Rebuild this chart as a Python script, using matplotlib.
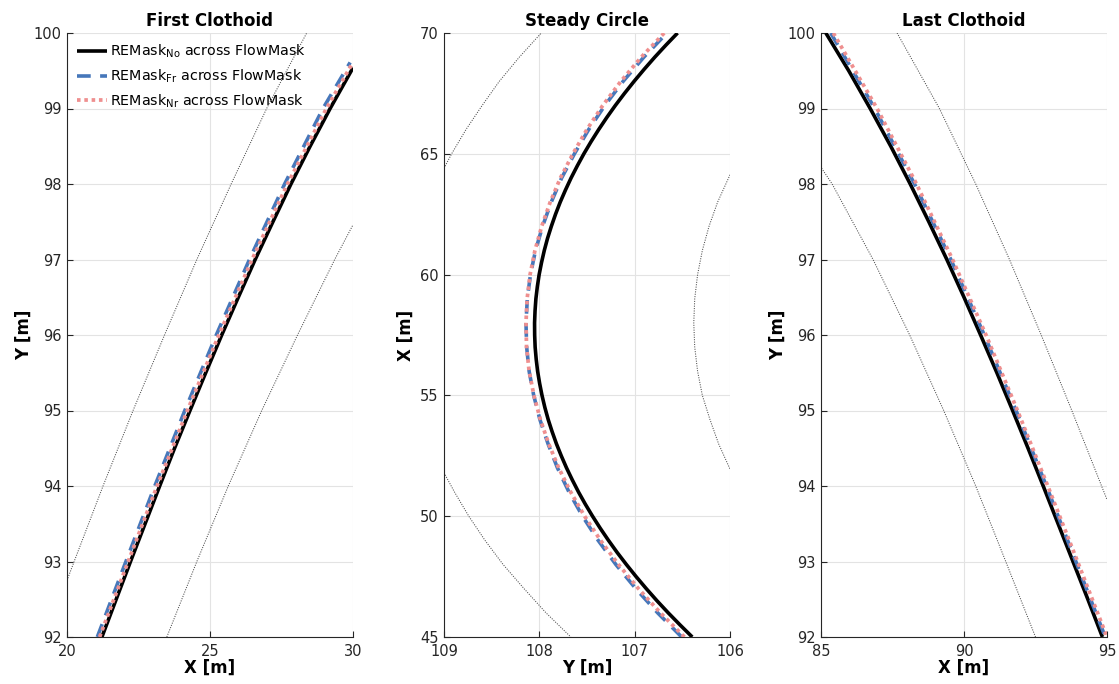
import matplotlib
matplotlib.use("Agg")
import matplotlib.pyplot as plt

plt.rcParams['font.family'] = ['DejaVu Sans']
plt.rcParams['mathtext.default'] = 'regular'

# ---------------- data ----------------
titles = ["First Clothoid", "Steady Circle", "Last Clothoid"]
legend_labels = [r"REMask$_{No}$ across FlowMask",
                 r"REMask$_{Fr}$ across FlowMask",
                 r"REMask$_{Nr}$ across FlowMask"]

# Panel 1 (x = X [m], y = Y [m])
p1_no_y = [92, 92.5, 93, 93.5, 94, 94.5, 95, 95.5, 96, 96.5, 97, 97.5,
           98, 98.5, 99, 99.54]
p1_no_x = [21.22, 21.72, 22.22, 22.73, 23.24, 23.76, 24.30, 24.85, 25.41,
           25.99, 26.58, 27.20, 27.83, 28.50, 29.20, 30.00]
p1_fr_y = [92, 93, 94, 95, 96, 97, 98, 99, 99.61]
p1_fr_x = [21.06, 22.06, 23.07, 24.12, 25.22, 26.38, 27.61, 28.95, 29.90]
p1_nr_y = [92, 93, 94, 95, 96, 97, 98, 99, 99.58]
p1_nr_x = [21.14, 22.14, 23.15, 24.21, 25.31, 26.47, 27.71, 29.07, 29.95]
p1_bl_y = [92.75, 93, 94, 95, 96, 97, 98, 99, 100]
p1_bl_x = [20.00, 20.25, 21.26, 22.31, 23.41, 24.54, 25.74, 26.98, 28.38]
p1_br_y = [92, 93, 94, 95, 96, 97, 97.46]
p1_br_x = [23.49, 24.54, 25.64, 26.81, 28.06, 29.36, 30.00]

# Panel 2 (horizontal = Y [m], vertical = X [m])
p2_no_X = [45, 45.5, 46, 46.5, 47, 47.5, 48, 48.5, 49, 49.5, 50, 50.5, 51,
           51.5, 52, 52.5, 53, 53.5, 54, 54.5, 55, 55.5, 56, 56.5, 57, 57.5,
           58, 58.5, 59, 59.5, 60, 60.5, 61, 61.5, 62, 62.5, 63, 63.5, 64,
           64.5, 65, 65.5, 66, 66.5, 67, 67.5, 68, 68.5, 69, 69.5, 70]
p2_no_Y = [106.396, 106.524, 106.648, 106.766, 106.878, 106.985, 107.087,
           107.184, 107.275, 107.361, 107.442, 107.518, 107.589, 107.654,
           107.715, 107.770, 107.821, 107.866, 107.907, 107.942, 107.972,
           107.997, 108.018, 108.033, 108.044, 108.049, 108.050, 108.045,
           108.036, 108.021, 108.002, 107.977, 107.948, 107.914, 107.874,
           107.830, 107.781, 107.726, 107.667, 107.602, 107.533, 107.458,
           107.378, 107.293, 107.203, 107.107, 107.006, 106.900, 106.789,
           106.672, 106.550]
p2_X = [45, 46, 47, 48, 49, 50, 51, 52, 53, 54, 55, 56, 57,
        58, 59, 60, 61, 62, 63, 64, 65, 66, 67, 68, 69, 70]
p2_fr_Y = [106.507, 106.759, 106.988, 107.197, 107.383, 107.547, 107.689,
           107.810, 107.909, 107.994, 108.059, 108.107, 108.133, 108.140,
           108.126, 108.093, 108.040, 107.966, 107.875, 107.766, 107.632,
           107.483, 107.313, 107.121, 106.904, 106.662]
p2_nr_Y = [106.478, 106.730, 106.960, 107.170, 107.358, 107.525, 107.671,
           107.797, 107.902, 107.989, 108.057, 108.107, 108.134, 108.140,
           108.128, 108.097, 108.046, 107.975, 107.886, 107.779, 107.648,
           107.502, 107.335, 107.145, 106.931, 106.690]
p2_top_X = [64.4, 65, 66, 67, 68, 69, 70]
p2_top_Y = [109.00, 108.92, 108.77, 108.60, 108.42, 108.21, 107.98]
p2_bot_X = [51.8, 51, 50, 49, 48, 47, 46, 45]
p2_bot_Y = [109.00, 108.89, 108.74, 108.57, 108.38, 108.16, 107.93, 107.67]
p2_in_X = [64.13, 63, 62, 61, 60, 59, 58, 57, 56, 55, 54, 53, 51.95]
p2_in_Y = [106.00, 106.13, 106.22, 106.29, 106.34, 106.37, 106.38, 106.37,
           106.34, 106.29, 106.21, 106.12, 106.00]

# Panel 3 (x = X [m], y = Y [m])
p3_no_y = [100, 99.5, 99, 98.5, 98, 97.5, 97, 96.5, 96, 95.5, 95, 94.5,
           94, 93.5, 93, 92.5, 92]
p3_no_x = [85.17, 85.97, 86.72, 87.44, 88.12, 88.77, 89.40, 90.00, 90.58,
           91.15, 91.70, 92.24, 92.77, 93.29, 93.81, 94.33, 94.84]
p3_y = [100, 99, 98, 97, 96, 95, 94, 93, 92]
p3_fr_x = [85.34, 86.88, 88.27, 89.54, 90.71, 91.82, 92.88, 93.91, 94.94]
p3_nr_x = [85.43, 86.96, 88.34, 89.60, 90.77, 91.87, 92.93, 93.97, 95.00]
p3_bl_y = [98.21, 98, 97, 96, 95, 94, 93, 92]
p3_bl_x = [85.02, 85.39, 86.82, 88.10, 89.29, 90.41, 91.46, 92.50]
p3_br_y = [100, 99, 98, 97, 96, 95, 94, 93.82]
p3_br_x = [87.66, 89.14, 90.41, 91.59, 92.70, 93.77, 94.81, 95.00]

# ---------------- styles ----------------
C_NO = 'black'
C_FR = '#4677BA'
C_NR = '#EF8F8F'
C_BD = '#4d4d4d'

W, H = 1119, 684
fig = plt.figure(figsize=(W / 100, H / 100), dpi=100)

lefts = [67, 444, 821]
ax_w = 286
top_px, bot_px = 33, 637
axes = []
for lp in lefts:
    ax = fig.add_axes([lp / W, 1 - bot_px / H, ax_w / W, (bot_px - top_px) / H])
    axes.append(ax)

LBL = dict(fontsize=12, fontweight='bold')


def style(ax):
    ax.grid(True, color='#e3e3e3', linewidth=0.8)
    ax.set_axisbelow(True)
    for s in ['top', 'right']:
        ax.spines[s].set_visible(False)
    for s in ['left', 'bottom']:
        ax.spines[s].set_color('#262626')
        ax.spines[s].set_linewidth(0.8)
    ax.tick_params(direction='in', length=4, width=0.8, colors='#262626',
                   labelsize=10.5, labelcolor='#262626')
    ax.tick_params(axis='x', pad=5)
    ax.tick_params(axis='y', pad=4)


def draw_lines(ax, series):
    (xn, yn), (xf, yf), (xr, yr) = series
    l1, = ax.plot(xn, yn, color=C_NO, lw=2.6, solid_capstyle='butt',
                  solid_joinstyle='round', zorder=3)
    l2, = ax.plot(xf, yf, color=C_FR, lw=2.6, dashes=(3.8, 2.6),
                  dash_capstyle='butt', zorder=4)
    l3, = ax.plot(xr, yr, color=C_NR, lw=2.7, dashes=(0.95, 1.0),
                  dash_capstyle='butt', zorder=5)
    return [l1, l2, l3]


def boundary(ax, x, y):
    ax.plot(x, y, color=C_BD, lw=0.75, dashes=(1, 1.3), zorder=2)


# Panel 1
ax = axes[0]
style(ax)
boundary(ax, p1_bl_x, p1_bl_y)
boundary(ax, p1_br_x, p1_br_y)
handles = draw_lines(ax, [(p1_no_x, p1_no_y), (p1_fr_x, p1_fr_y),
                          (p1_nr_x, p1_nr_y)])
ax.set_xlim(20, 30)
ax.set_ylim(92, 100)
ax.set_xticks([20, 25, 30])
ax.set_yticks(range(92, 101))
ax.set_xlabel('X [m]', labelpad=0, **LBL)
ax.set_ylabel('Y [m]', labelpad=0.5, **LBL)
ax.set_title(titles[0], pad=5, **LBL)
leg = ax.legend(handles, legend_labels, loc='upper left', frameon=False,
                fontsize=10.3, handlelength=2.1, handletextpad=0.2,
                borderaxespad=0.3, labelspacing=0.5,
                bbox_to_anchor=(0.0, 1.0))

# Panel 2
ax = axes[1]
style(ax)
boundary(ax, p2_top_Y, p2_top_X)
boundary(ax, p2_bot_Y, p2_bot_X)
boundary(ax, p2_in_Y, p2_in_X)
draw_lines(ax, [(p2_no_Y, p2_no_X), (p2_fr_Y, p2_X), (p2_nr_Y, p2_X)])
ax.set_xlim(109, 106)
ax.set_ylim(45, 70)
ax.set_xticks([109, 108, 107, 106])
ax.set_yticks([45, 50, 55, 60, 65, 70])
ax.set_xlabel('Y [m]', labelpad=0, **LBL)
ax.set_ylabel('X [m]', labelpad=3.5, **LBL)
ax.set_title(titles[1], pad=5, **LBL)

# Panel 3
ax = axes[2]
style(ax)
boundary(ax, p3_bl_x, p3_bl_y)
boundary(ax, p3_br_x, p3_br_y)
draw_lines(ax, [(p3_no_x, p3_no_y), (p3_fr_x, p3_y), (p3_nr_x, p3_y)])
ax.set_xlim(85, 95)
ax.set_ylim(92, 100)
ax.set_xticks([85, 90, 95])
ax.set_yticks(range(92, 101))
ax.set_xlabel('X [m]', labelpad=0, **LBL)
ax.set_ylabel('Y [m]', labelpad=0.5, **LBL)
ax.set_title(titles[2], pad=5, **LBL)

fig.savefig('out.png', dpi=100)
